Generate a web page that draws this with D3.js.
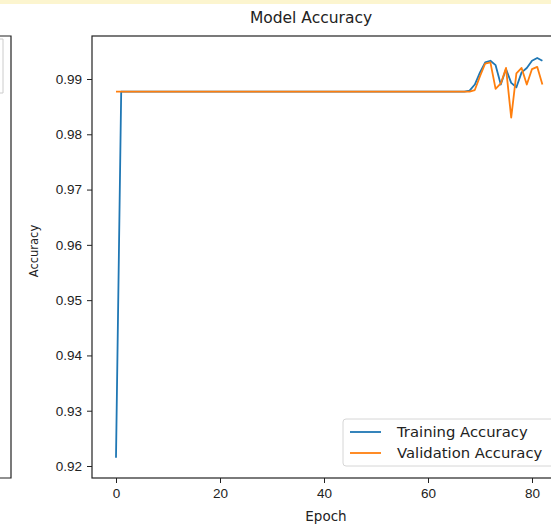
<!DOCTYPE html>
<html>
<head>
	<meta charset="utf-8">
	<title>Model Accuracy</title>
	<script src="https://d3js.org/d3.v7.min.js"></script>
</head>
<body>

<svg class="chart"></svg>

<style type="text/css">
	body {
		margin: 0;
		background: #fff;
	}

	.chart {
		width: 551px;
		height: 528px;
		display: block;
		font-family: "DejaVu Sans", sans-serif;
	}

	.chart .tick text {
		font-size: 13.5px;
		fill: #222;
	}

	.chart .tick line {
		stroke: #222;
	}
</style>

<script type="text/javascript">
	// accuracy per epoch
	var trainAcc = [
		0.9215, 0.9877, 0.9877, 0.9877, 0.9877, 0.9877, 0.9877, 0.9877, 0.9877, 0.9877,
		0.9877, 0.9877, 0.9877, 0.9877, 0.9877, 0.9877, 0.9877, 0.9877, 0.9877, 0.9877,
		0.9877, 0.9877, 0.9877, 0.9877, 0.9877, 0.9877, 0.9877, 0.9877, 0.9877, 0.9877,
		0.9877, 0.9877, 0.9877, 0.9877, 0.9877, 0.9877, 0.9877, 0.9877, 0.9877, 0.9877,
		0.9877, 0.9877, 0.9877, 0.9877, 0.9877, 0.9877, 0.9877, 0.9877, 0.9877, 0.9877,
		0.9877, 0.9877, 0.9877, 0.9877, 0.9877, 0.9877, 0.9877, 0.9877, 0.9877, 0.9877,
		0.9877, 0.9877, 0.9877, 0.9877, 0.9877, 0.9877, 0.9877, 0.9877, 0.9879, 0.9890,
		0.9912, 0.9930, 0.9933, 0.9925, 0.9890, 0.9918, 0.9893, 0.9885, 0.9912, 0.9920,
		0.9933, 0.9938, 0.9933
	]

	var valAcc = [
		0.9877, 0.9877, 0.9877, 0.9877, 0.9877, 0.9877, 0.9877, 0.9877, 0.9877, 0.9877,
		0.9877, 0.9877, 0.9877, 0.9877, 0.9877, 0.9877, 0.9877, 0.9877, 0.9877, 0.9877,
		0.9877, 0.9877, 0.9877, 0.9877, 0.9877, 0.9877, 0.9877, 0.9877, 0.9877, 0.9877,
		0.9877, 0.9877, 0.9877, 0.9877, 0.9877, 0.9877, 0.9877, 0.9877, 0.9877, 0.9877,
		0.9877, 0.9877, 0.9877, 0.9877, 0.9877, 0.9877, 0.9877, 0.9877, 0.9877, 0.9877,
		0.9877, 0.9877, 0.9877, 0.9877, 0.9877, 0.9877, 0.9877, 0.9877, 0.9877, 0.9877,
		0.9877, 0.9877, 0.9877, 0.9877, 0.9877, 0.9877, 0.9877, 0.9877, 0.9877, 0.9880,
		0.9905, 0.9928, 0.9930, 0.9882, 0.9892, 0.9920, 0.9830, 0.9910, 0.9920, 0.9890,
		0.9918, 0.9922, 0.9890
	]

	var xTicks = [0, 20, 40, 60, 80]
	var yTicks = [0.92, 0.93, 0.94, 0.95, 0.96, 0.97, 0.98, 0.99]
	var seriesNames = ['Training Accuracy', 'Validation Accuracy']
	var colors = ['#1f77b4', '#ff7f0e']

	;(function() {
		'use strict'

		var width = 551
		var height = 528

		// axes box (right edge is cut off by the screenshot)
		var box = { left: 92, top: 36, right: 562, bottom: 478 }

		var svg = d3.select('.chart')
			.attr('viewBox', [0, 0, width, height])

		// yellow strip at the very top of the screenshot
		svg.append('rect')
			.attr('x', 0).attr('y', 0)
			.attr('width', width).attr('height', 4)
			.attr('fill', '#fcf5cf')

		// neighbouring chart, only its right edge shows
		svg.append('path')
			.attr('d', 'M0,' + box.top + 'H11V' + box.bottom + 'H0')
			.attr('fill', 'none')
			.attr('stroke', '#222')
			.attr('stroke-width', 1.2)
		svg.append('path')
			.attr('d', 'M0,39H3V93H0')
			.attr('fill', 'none')
			.attr('stroke', '#ccc')

		var x = d3.scaleLinear().domain([0, 80]).range([116, 532])
		var y = d3.scaleLinear().domain([0.92, 0.99]).range([466, 79])

		svg.append('clipPath').attr('id', 'plot-clip')
			.append('rect')
			.attr('x', box.left).attr('y', box.top)
			.attr('width', box.right - box.left)
			.attr('height', box.bottom - box.top)

		var line = d3.line()
			.x(function(d, i) { return x(i) })
			.y(function(d) { return y(d) })

		var plot = svg.append('g').attr('clip-path', 'url(#plot-clip)')

		plot.selectAll('.series')
			.data([trainAcc, valAcc])
			.enter()
			.append('path')
			.attr('class', 'series')
			.attr('d', line)
			.attr('fill', 'none')
			.attr('stroke', function(d, i) { return colors[i] })
			.attr('stroke-width', 1.8)
			.attr('stroke-linejoin', 'round')

		// axes frame
		svg.append('rect')
			.attr('x', box.left).attr('y', box.top)
			.attr('width', box.right - box.left)
			.attr('height', box.bottom - box.top)
			.attr('fill', 'none')
			.attr('stroke', '#222')
			.attr('stroke-width', 1.2)

		var xAxis = svg.append('g')
			.attr('transform', 'translate(0,' + box.bottom + ')')
			.call(d3.axisBottom(x).tickValues(xTicks).tickSize(5).tickPadding(5)
				.tickFormat(d3.format('d')))
		xAxis.select('.domain').remove()
		xAxis.selectAll('text').attr('font-family', null).attr('font-size', null)

		var yAxis = svg.append('g')
			.attr('transform', 'translate(' + box.left + ',0)')
			.call(d3.axisLeft(y).tickValues(yTicks).tickSize(5).tickPadding(5)
				.tickFormat(d3.format('.2f')))
		yAxis.select('.domain').remove()
		yAxis.selectAll('text').attr('font-family', null).attr('font-size', null)

		svg.append('text')
			.attr('x', 311).attr('y', 23)
			.attr('text-anchor', 'middle')
			.attr('font-size', 15.5)
			.attr('fill', '#222')
			.text('Model Accuracy')

		svg.append('text')
			.attr('x', 326).attr('y', 521)
			.attr('text-anchor', 'middle')
			.attr('font-size', 13.5)
			.attr('fill', '#222')
			.text('Epoch')

		svg.append('text')
			.attr('transform', 'translate(38,' + 251 + ') rotate(-90)')
			.attr('text-anchor', 'middle')
			.attr('font-size', 11.5)
			.attr('fill', '#222')
			.text('Accuracy')

		// legend, lower right
		var legend = svg.append('g')
			.attr('transform', 'translate(343,419)')

		legend.append('rect')
			.attr('width', 215).attr('height', 47)
			.attr('rx', 3)
			.attr('fill', '#fff')
			.attr('fill-opacity', 0.85)
			.attr('stroke', '#d6d6d6')

		var item = legend.selectAll('.item')
			.data(seriesNames)
			.enter()
			.append('g')
			.attr('class', 'item')
			.attr('transform', function(d, i) { return 'translate(0,' + (13 + i * 21) + ')' })

		item.append('line')
			.attr('x1', 7).attr('x2', 38)
			.attr('stroke', function(d, i) { return colors[i] })
			.attr('stroke-width', 1.8)

		item.append('text')
			.attr('x', 54).attr('dy', '0.35em')
			.attr('font-size', 14.8)
			.attr('fill', '#222')
			.text(function(d) { return d })
	})()
</script>
</body>
</html>
